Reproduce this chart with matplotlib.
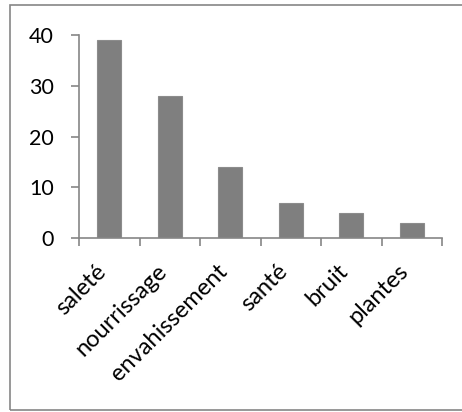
import matplotlib.pyplot as plt
from matplotlib.patches import Rectangle
from matplotlib.transforms import ScaledTranslation

# Data
categories = ["saleté", "nourrissage", "envahissement", "santé", "bruit", "plantes"]
values = [39, 28, 14, 7, 5, 3]
yticks = [0, 10, 20, 30, 40]

axis_color = "#868686"
bar_color = "#7f7f7f"

plt.rcParams['font.family'] = ['Lato', 'DejaVu Sans']

fig = plt.figure(figsize=(4.62, 4.12), dpi=100)
ax = fig.add_axes([0.171, 0.422, 0.786, 0.493])

x = range(len(categories))
ax.bar(x, values, width=0.4, color=bar_color, edgecolor="#8c8c8c", linewidth=0.8, zorder=2)

ax.set_xlim(-0.5, len(categories) - 0.5)
ax.set_ylim(0, 40)
ax.set_yticks(yticks)
ax.set_yticklabels([str(t) for t in yticks], fontsize=15.5)

# category ticks sit between bars
ax.set_xticks([i - 0.5 for i in range(len(categories) + 1)])
ax.set_xticklabels([])
ax.set_xticks(list(x), minor=True)
ax.set_xticklabels(categories, minor=True, rotation=45, ha="right", va="top",
                   rotation_mode="anchor", fontsize=17)
ax.tick_params(axis="x", which="minor", length=0, pad=16)
ax.tick_params(axis="x", which="major", length=6, color=axis_color, width=1.2)
ax.tick_params(axis="y", length=6, color=axis_color, width=1.2, pad=12)

# nudge the slanted labels left so their ends sit under the bars
shift = ScaledTranslation(-14 / 100, 0, fig.dpi_scale_trans)
for lab in ax.get_xticklabels(minor=True):
    lab.set_transform(lab.get_transform() + shift)

for side in ["top", "right"]:
    ax.spines[side].set_visible(False)
for side in ["left", "bottom"]:
    ax.spines[side].set_color(axis_color)
    ax.spines[side].set_linewidth(1.2)

# outer chart frame
fig.patches.append(Rectangle((0.021, 0.004), 0.985, 0.983, transform=fig.transFigure,
                             fill=False, edgecolor=axis_color, linewidth=1.2))

fig.savefig("out.png", dpi=100)
